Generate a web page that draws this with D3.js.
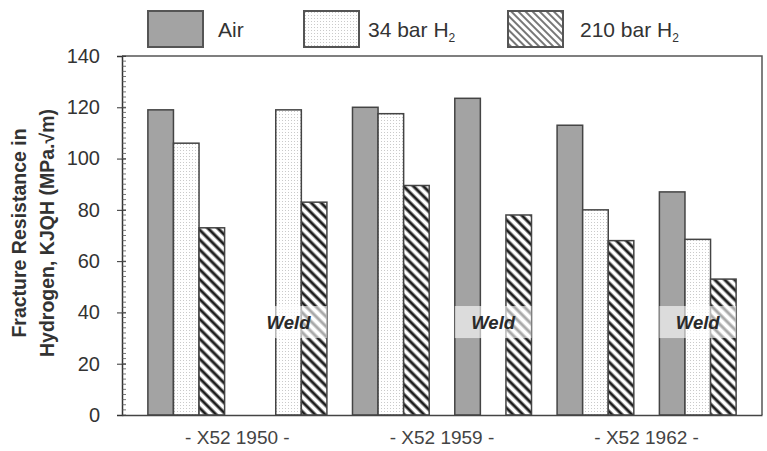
<!DOCTYPE html>
<html>
<head>
<meta charset="utf-8">
<script src="https://cdn.jsdelivr.net/npm/d3@7"></script>
<style>
    body { margin: 0; background: #fff; }
    svg text { font-family: "Liberation Sans", Arial, sans-serif; fill: #333; }
</style>
</head>
<body>
<div id="bar-vis"></div>
<script>
// slots: a base metal and a weld position for each pipe
let slots = ["1950 base", "1950 weld", "1959 base", "1959 weld", "1962 base", "1962 weld"];
let pipes = ["- X52 1950 -", "- X52 1959 -", "- X52 1962 -"];
let weldSlots = ["1950 weld", "1959 weld", "1962 weld"];
let seriesNames = ["Air", "34 bar H2", "210 bar H2"];

// fracture resistance values, null where there is no bar
let airValues = [119, null, 120, 123.5, 113, 87];
let h34Values = [106, 119, 117.5, null, 80, 68.5];
let h210Values = [73, 83, 89.5, 78, 68, 53];

let yTicks = [0, 20, 40, 60, 80, 100, 120, 140];
let weldBand = [30, 42.5];
let weldLabel = 36;

/**
 * Constructor for the BarVis
 */
function BarVis(){
    let self = this;

    self.init();
};

/**
 * Initializes the svg and draws everything
 */
BarVis.prototype.init = function(){
    let self = this;
    self.margin = {top: 56, right: 5, bottom: 36, left: 122};
    self.svgWidth = 767;
    self.svgHeight = 451;
    self.width = self.svgWidth - self.margin.left - self.margin.right;
    self.height = self.svgHeight - self.margin.top - self.margin.bottom;

    self.svg = d3.select("#bar-vis").append("svg")
        .attr("width", self.svgWidth)
        .attr("height", self.svgHeight);

    self.makePatterns();

    self.g = self.svg.append("g")
        .attr("transform", "translate(" + self.margin.left + "," + self.margin.top + ")");

    self.x = d3.scaleBand().domain(slots).range([0, self.width]).paddingInner(0).paddingOuter(0.128);
    self.xSub = d3.scaleBand().domain(seriesNames).range([0, self.x.bandwidth()]).paddingInner(0).paddingOuter(0.5);
    self.xPipe = d3.scaleBand().domain(pipes).range(self.x.range()).paddingOuter(0.128 / 2);
    self.y = d3.scaleLinear().domain([0, 140]).range([self.height, 0]);

    self.wrangleData();
    self.update();
};

/**
 * Fill patterns for the hydrogen bars
 */
BarVis.prototype.makePatterns = function(){
    let self = this;
    let defs = self.svg.append("defs");

    let dots = defs.append("pattern").attr("id", "dots")
        .attr("patternUnits", "userSpaceOnUse").attr("width", 3).attr("height", 3);
    dots.append("rect").attr("width", 3).attr("height", 3).attr("fill", "#fff");
    dots.append("rect").attr("x", 1).attr("y", 1).attr("width", 1).attr("height", 1).attr("fill", "#cacaca");

    let hatch = defs.append("pattern").attr("id", "hatch")
        .attr("patternUnits", "userSpaceOnUse").attr("width", 7).attr("height", 7)
        .attr("patternTransform", "rotate(-45)");
    hatch.append("rect").attr("width", 7).attr("height", 7).attr("fill", "#fff");
    hatch.append("line").attr("x1", 2).attr("y1", 0).attr("x2", 2).attr("y2", 7)
        .attr("stroke", "#1e1e1e").attr("stroke-width", 3);

    let hatchLight = defs.append("pattern").attr("id", "hatch-light")
        .attr("patternUnits", "userSpaceOnUse").attr("width", 5).attr("height", 5)
        .attr("patternTransform", "rotate(-45)");
    hatchLight.append("rect").attr("width", 5).attr("height", 5).attr("fill", "#fff");
    hatchLight.append("line").attr("x1", 2).attr("y1", 0).attr("x2", 2).attr("y2", 5)
        .attr("stroke", "#777").attr("stroke-width", 2);
};

/**
 * Data wrangling
 */
BarVis.prototype.wrangleData = function(){
    let self = this;
    let cols = [airValues, h34Values, h210Values];
    self.fills = {"Air": "#a3a3a3", "34 bar H2": "url(#dots)", "210 bar H2": "url(#hatch)"};
    self.bars = [];
    slots.forEach(function(s, i){
        seriesNames.forEach(function(n, j){
            if (cols[j][i] != null) self.bars.push({slot: s, series: n, value: cols[j][i]});
        });
    });
};

/**
 * Draws bars, axes, weld labels and legend
 */
BarVis.prototype.update = function(){
    let self = this;
    let g = self.g;

    g.selectAll(".bar").data(self.bars).enter().append("rect")
        .attr("class", "bar")
        .attr("x", d => self.x(d.slot) + self.xSub(d.series))
        .attr("y", d => self.y(d.value))
        .attr("width", self.xSub.bandwidth())
        .attr("height", d => self.y(0) - self.y(d.value))
        .attr("fill", d => self.fills[d.series])
        .attr("stroke", "#444").attr("stroke-width", 1.5);

    // white band with the Weld label
    let welds = g.selectAll(".weld").data(weldSlots).enter().append("g").attr("class", "weld");
    welds.append("rect")
        .attr("x", d => self.x(d) + self.xSub("Air"))
        .attr("y", self.y(weldBand[1]))
        .attr("width", self.xSub.bandwidth() * 3)
        .attr("height", self.y(weldBand[0]) - self.y(weldBand[1]))
        .attr("fill", "#fff").attr("opacity", 0.62);
    welds.append("text")
        .attr("x", d => self.x(d) + self.x.bandwidth() / 2)
        .attr("y", self.y(weldLabel))
        .attr("dy", "0.35em")
        .attr("text-anchor", "middle")
        .style("font-size", "18.5px").style("font-weight", "bold").style("font-style", "italic")
        .style("fill", "#2a2a2a")
        .text("Weld");

    // frame
    g.append("path")
        .attr("d", "M0,0H" + self.width + "V" + self.height)
        .attr("fill", "none").attr("stroke", "#555").attr("stroke-width", 1.5);

    // y axis
    let yAxis = g.append("g").attr("class", "y-axis")
        .call(d3.axisLeft(self.y).tickValues(yTicks).tickSize(5).tickPadding(17));
    yAxis.selectAll(".tick line").attr("x1", 4).attr("stroke", "#333");
    yAxis.selectAll(".tick text").style("font-size", "20px").style("fill", "#333");
    yAxis.select(".domain").attr("stroke", "#333").attr("stroke-width", 1.5);
    yAxis.selectAll(".minor").data(d3.range(0, 141, 2)).enter().append("line")
        .attr("class", "minor")
        .attr("x1", 0).attr("x2", 4)
        .attr("y1", d => self.y(d)).attr("y2", d => self.y(d))
        .attr("stroke", "#555").attr("stroke-width", 0.8);

    // x axis
    let xAxis = g.append("g").attr("class", "x-axis")
        .attr("transform", "translate(0," + self.height + ")")
        .call(d3.axisBottom(self.xPipe).tickSize(0).tickPadding(16));
    xAxis.select(".domain").attr("stroke", "#444").attr("stroke-width", 1.5);
    xAxis.selectAll(".tick text").style("font-size", "19px").style("fill", "#444");

    // y label
    let yl = self.svg.append("g").attr("transform", "translate(0,233) rotate(-90)");
    yl.append("text").attr("x", 0).attr("y", 26).attr("text-anchor", "middle")
        .style("font-size", "19.5px").style("font-weight", "bold")
        .text("Fracture Resistance in");
    yl.append("text").attr("x", 0).attr("y", 54).attr("text-anchor", "middle")
        .style("font-size", "19.5px").style("font-weight", "bold")
        .text("Hydrogen, KJQH (MPa.\u221Am)");

    // legend
    let legendX = [148, 304, 508];
    let legendFills = ["#a3a3a3", "url(#dots)", "url(#hatch-light)"];
    let legend = self.svg.selectAll(".legend").data(seriesNames).enter().append("g")
        .attr("class", "legend")
        .attr("transform", (d, i) => "translate(" + legendX[i] + ",11)");
    legend.append("rect")
        .attr("width", 55).attr("height", 36)
        .attr("fill", (d, i) => legendFills[i])
        .attr("stroke", "#555").attr("stroke-width", 2);
    let lt = legend.append("text").attr("x", (d, i) => i == 2 ? 72 : (i == 1 ? 64 : 70))
        .attr("y", 26).style("font-size", "21px").style("fill", "#333");
    lt.append("tspan").text(d => d.replace("H2", "H"));
    lt.filter(d => d != "Air").append("tspan").attr("dy", 5).style("font-size", "12px").text("2");
};

new BarVis();
</script>
</body>
</html>
